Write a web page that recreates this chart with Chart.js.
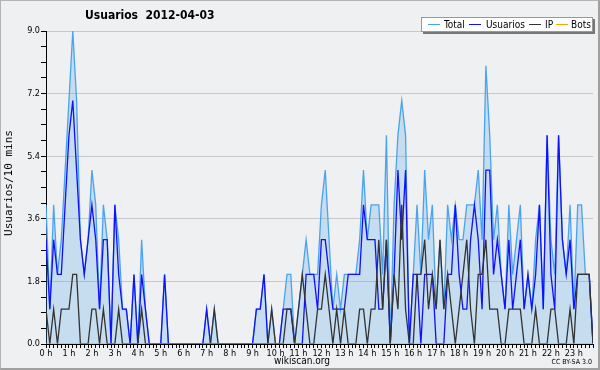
<!DOCTYPE html>
<html>
<head>
<meta charset="utf-8">
<script src="https://cdn.jsdelivr.net/npm/chart.js@4.4.0/dist/chart.umd.min.js"></script>
<style>
  body { margin: 0; background: #eff0f1; }
  #wrap { position: relative; width: 600px; height: 370px; background: #eff0f1; overflow: hidden;
    font-family: 'DejaVu Sans Condensed', 'DejaVu Sans', sans-serif; font-stretch: condensed; color: #000; }
  #chart { position: absolute; left: 0; top: 0; }
  .frame { position: absolute; left: 0; top: 0; width: 600px; height: 370px; box-sizing: border-box;
    border: 1px solid #b4b4b4; border-right: 2px solid #a0a0a0; border-bottom: 2px solid #a0a0a0; pointer-events: none; }
  .title { position: absolute; left: 85px; top: 8px; font-size: 12px; font-weight: bold; white-space: pre; }
  .legend { position: absolute; left: 421px; top: 17px; width: 170px; height: 13px; background: #fff;
    border: 1px solid #999; box-shadow: 2px 2px 0 #777; font-size: 10px; line-height: 13px; white-space: nowrap; }
  .legend span { position: absolute; top: 0; }
  .legend i { position: absolute; top: 6px; height: 1px; width: 12px; }
  .ytitle { position: absolute; left: -51px; top: 177px; width: 120px; height: 12px; line-height: 12px; text-align: center;
    font-family: 'DejaVu Sans Mono', monospace; font-stretch: normal; font-size: 11px; transform: rotate(-90deg); }
  .site { position: absolute; left: 252px; width: 100px; top: 355px; text-align: center; font-size: 10px; }
  .cc { position: absolute; right: 8px; top: 358px; font-size: 7px; }
</style>
</head>
<body>
<div id="wrap">
  <canvas id="chart" width="600" height="370"></canvas>
  <div class="title">Usuarios  2012-04-03</div>
  <div class="legend">
    <i style="left:6px;background:#4aa3f0"></i><span style="left:22px">Total</span>
    <i style="left:47px;background:#1010ff"></i><span style="left:64px">Usuarios</span>
    <i style="left:107px;background:#333"></i><span style="left:123px">IP</span>
    <i style="left:134px;background:#ffa500"></i><span style="left:149px">Bots</span>
  </div>
  <div class="ytitle">Usuarios/10 mins</div>
  <div class="site">wikiscan.org</div>
  <div class="cc">CC BY-SA 3.0</div>
  <div class="frame"></div>
</div>
<script>
// valores por franja de 10 minutos (144 franjas, 0:00 a 23:50)
const hourLabels = ['0 h', '1 h', '2 h', '3 h', '4 h', '5 h', '6 h', '7 h', '8 h', '9 h', '10 h', '11 h',
  '12 h', '13 h', '14 h', '15 h', '16 h', '17 h', '18 h', '19 h', '20 h', '21 h', '22 h', '23 h']

const total = [
  4, 1, 4, 2, 3, 5, 7, 9, 7, 3, 2, 3, 5, 4, 1, 4, 3, 0, 4, 3, 1, 1, 0, 2, 0, 3, 1, 0, 0, 0,
  0, 2, 0, 0, 0, 0, 0, 0, 0, 0, 0, 0, 1, 0, 1, 0, 0, 0, 0, 0, 0, 0, 0, 0, 0, 1, 1, 2, 0, 1,
  0, 0, 1, 2, 2, 0, 1, 2, 3, 2, 2, 2, 4, 5, 3, 1, 2, 1, 2, 2, 2, 2, 3, 5, 3, 4, 4, 4, 2, 6,
  0, 4, 6, 7, 6, 0, 2, 4, 2, 5, 3, 4, 1, 3, 1, 4, 3, 4, 3, 3, 4, 4, 4, 5, 3, 8, 6, 3, 4, 2,
  1, 4, 2, 3, 4, 1, 2, 1, 3, 4, 1, 6, 3, 2, 6, 3, 2, 4, 1, 4, 4, 2, 2, 0
]
const usuarios = [
  3, 1, 3, 2, 2, 4, 6, 7, 5, 3, 2, 3, 4, 3, 1, 3, 3, 0, 4, 2, 1, 1, 0, 2, 0, 2, 1, 0, 0, 0,
  0, 2, 0, 0, 0, 0, 0, 0, 0, 0, 0, 0, 1, 0, 0, 0, 0, 0, 0, 0, 0, 0, 0, 0, 0, 1, 1, 2, 0, 0,
  0, 0, 1, 1, 1, 0, 0, 0, 2, 2, 2, 1, 3, 3, 2, 1, 1, 1, 1, 2, 2, 2, 2, 4, 3, 3, 3, 1, 1, 3,
  0, 2, 5, 3, 5, 0, 2, 2, 0, 2, 2, 2, 0, 0, 0, 2, 2, 4, 2, 1, 1, 3, 4, 3, 1, 5, 5, 2, 3, 2,
  1, 3, 1, 2, 3, 1, 2, 1, 2, 4, 1, 6, 2, 1, 6, 3, 2, 3, 1, 2, 2, 2, 2, 0
]
const ip = [
  1, 0, 1, 0, 1, 1, 1, 2, 2, 0, 0, 0, 1, 1, 0, 1, 0, 0, 0, 1, 0, 0, 0, 0, 0, 1, 0, 0, 0, 0,
  0, 0, 0, 0, 0, 0, 0, 0, 0, 0, 0, 0, 0, 0, 1, 0, 0, 0, 0, 0, 0, 0, 0, 0, 0, 0, 0, 0, 0, 1,
  0, 0, 0, 1, 1, 0, 1, 2, 1, 0, 0, 1, 1, 2, 1, 0, 1, 0, 1, 0, 0, 0, 1, 1, 0, 1, 1, 3, 1, 3,
  0, 2, 1, 4, 1, 0, 0, 2, 2, 3, 1, 2, 1, 3, 1, 2, 1, 0, 1, 2, 3, 1, 0, 2, 2, 3, 1, 1, 1, 0,
  0, 1, 1, 1, 1, 0, 0, 0, 1, 0, 0, 0, 1, 1, 0, 0, 0, 1, 0, 2, 2, 2, 2, 0
]
const bots = [
  0, 0, 0, 0, 0, 0, 0, 0, 0, 0, 0, 0, 0, 0, 0, 0, 0, 0, 0, 0, 0, 0, 0, 0, 0, 0, 0, 0, 0, 0,
  0, 0, 0, 0, 0, 0, 0, 0, 0, 0, 0, 0, 0, 0, 0, 0, 0, 0, 0, 0, 0, 0, 0, 0, 0, 0, 0, 0, 0, 0,
  0, 0, 0, 0, 0, 0, 0, 0, 0, 0, 0, 0, 0, 0, 0, 0, 0, 0, 0, 0, 0, 0, 0, 0, 0, 0, 0, 0, 0, 0,
  0, 0, 0, 0, 0, 0, 0, 0, 0, 0, 0, 0, 0, 0, 0, 0, 0, 0, 0, 0, 0, 0, 0, 0, 0, 0, 0, 0, 0, 0,
  0, 0, 0, 0, 0, 0, 0, 0, 0, 0, 0, 0, 0, 0, 0, 0, 0, 0, 0, 0, 0, 0, 0, 0
]

const toPoints = arr => arr.map((v, i) => ({ x: i, y: v }))
const tickFont = { family: "'DejaVu Sans Condensed', 'DejaVu Sans', sans-serif", size: 9 }
const isMajor = v => Math.round(v * 100) % 180 === 0

new Chart(document.getElementById('chart'), {
  type: 'line',
  data: {
    datasets: [
      { label: 'Total', data: toPoints(total), borderColor: '#4aa3f0', backgroundColor: 'rgba(75,160,237,0.25)', fill: 'origin', order: 4 },
      { label: 'Usuarios', data: toPoints(usuarios), borderColor: '#1010ff', fill: false, order: 3 },
      { label: 'IP', data: toPoints(ip), borderColor: '#333333', fill: false, order: 2 },
      { label: 'Bots', data: toPoints(bots), borderColor: '#ffa500', fill: false, order: 1, borderWidth: 1 }
    ]
  },
  options: {
    responsive: false,
    animation: false,
    layout: { padding: { left: 0, right: 7, top: 31, bottom: 0 } },
    plugins: {
      legend: { display: false },
      tooltip: { enabled: false },
      filler: { drawTime: 'beforeDatasetsDraw' }
    },
    elements: {
      point: { radius: 0 },
      line: { tension: 0, borderWidth: 1.3 }
    },
    scales: {
      x: {
        type: 'linear',
        min: 0,
        max: 143,
        z: 1,
        afterFit: s => { s.height = 26 },
        border: { color: '#000', width: 1 },
        grid: { color: 'transparent', tickColor: '#000', tickLength: 4, drawOnChartArea: false },
        ticks: {
          stepSize: 1,
          autoSkip: false,
          maxRotation: 0,
          maxTicksLimit: 1000,
          padding: 0,
          color: '#000',
          font: tickFont,
          callback: v => (v % 6 === 0 ? hourLabels[v / 6] : '')
        }
      },
      y: {
        min: 0,
        max: 9,
        afterFit: s => { s.width = 46 },
        border: { color: '#000', width: 1 },
        grid: {
          color: ctx => (ctx.tick && ctx.tick.value > 0 && isMajor(ctx.tick.value) ? '#c8c8c8' : 'transparent'),
          tickColor: '#000',
          tickLength: 5
        },
        ticks: {
          stepSize: 0.45,
          maxTicksLimit: 1000,
          autoSkip: false,
          padding: 1,
          color: '#000',
          font: tickFont,
          callback: v => (isMajor(v) ? v.toFixed(1) : '')
        }
      }
    }
  }
})
</script>
</body>
</html>
